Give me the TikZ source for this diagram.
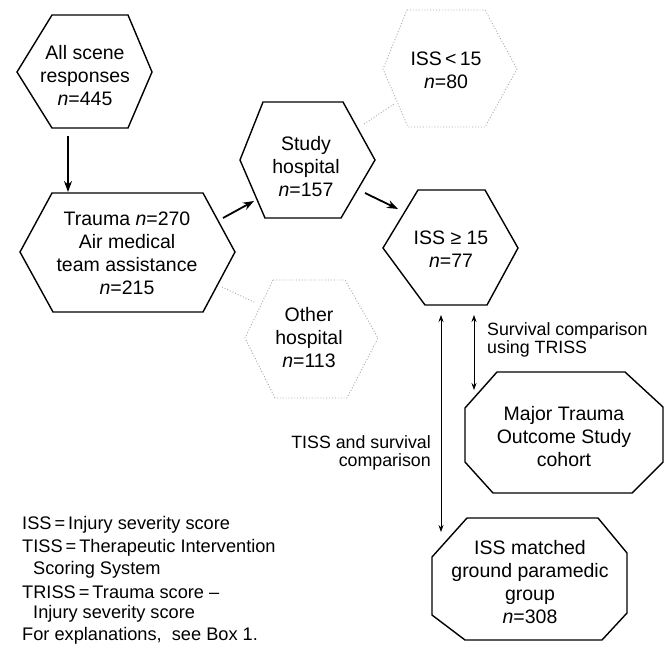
\documentclass[tikz,border=0pt]{standalone}
\usepackage{fontspec}
\setmainfont{Liberation Sans}
\usetikzlibrary{arrows.meta}
\begin{document}
\begin{tikzpicture}[x=1pt,y=-1pt,
  shapeline/.style={line width=1.4pt, line join=miter},
  faint/.style={gray!70, line width=0.9pt, dotted},
  hextext/.style={align=center, font=\fontsize{19.5}{23}\selectfont, inner sep=0pt},
  notetext/.style={font=\fontsize{17.8}{17.5}\selectfont, inner sep=0pt},
  legendline/.style={font=\fontsize{18.2}{21}\selectfont, inner sep=0pt, anchor=west},
  flow/.style={line width=1.8pt, -{Stealth[length=11pt,width=8pt]}},
  compare/.style={line width=0.8pt, {Stealth[length=7pt,width=5pt]}-{Stealth[length=7pt,width=5pt]}}
]
\useasboundingbox (0,0) rectangle (667,645);
\fill[white] (0,0) rectangle (667,645);

% shapes
\draw[shapeline] (52,15) -- (128,15) -- (152,72) -- (128,128) -- (52,128) -- (17,72) -- cycle;
\draw[shapeline] (52,193) -- (203,193) -- (235,252) -- (203,312) -- (53,312) -- (20,252) -- cycle;
\draw[shapeline] (263,102) -- (343,102) -- (375,160) -- (341,218) -- (265,218) -- (240,160) -- cycle;
\draw[faint] (407,10) -- (485,10) -- (517,69) -- (485,127) -- (408,127) -- (383,69) -- cycle;
\draw[shapeline] (418,190) -- (485,190) -- (518,248) -- (487,305) -- (425,305) -- (383,248) -- cycle;
\draw[faint] (273,280) -- (345,280) -- (378,338) -- (347,398) -- (275,398) -- (245,338) -- cycle;
\draw[shapeline] (497,372) -- (625,372) -- (663,407) -- (663,462) -- (632,493) -- (493,493) -- (465,462) -- (465,408) -- cycle;
\draw[shapeline] (467,518) -- (598,518) -- (627,553) -- (627,613) -- (602,640) -- (465,640) -- (432,615) -- (432,557) -- cycle;

% texts
\node[hextext] (all) at (85,76) {All scene\\responses\\\textit{n}=445};
\node[hextext] (trauma) at (127,253) {Trauma \textit{n}=270\\Air medical\\team assistance\\\textit{n}=215};
\node[hextext] (study) at (306,167) {Study\\hospital\\\textit{n}=157};
\node[hextext] (low) at (446,70) {ISS\,<\,15\\\textit{n}=80};
\node[hextext] (high) at (451,249) {ISS ≥ 15\\\textit{n}=77};
\node[hextext] (other) at (309,338) {Other\\hospital\\\textit{n}=113};
\node[hextext] (mtos) at (564,437) {Major Trauma\\Outcome Study\\cohort};
\node[hextext] (ground) at (530,582) {ISS matched\\ground paramedic\\group\\\textit{n}=308};

\node[notetext, anchor=west, align=left] (survlabel) at (487,340) {Survival comparison\\using TRISS};
\node[notetext, anchor=east, align=right] (tisslabel) at (431,453) {TISS and survival\\comparison};

\node[legendline] (leg1) at (22,525) {ISS\,=\,Injury severity score};
\node[legendline] (leg2) at (22,548) {TISS\,=\,Therapeutic Intervention};
\node[legendline] (leg3) at (33,570) {Scoring System};
\node[legendline] (leg4) at (22,592) {TRISS\,=\,Trauma score –};
\node[legendline] (leg5) at (33,614) {Injury severity score};
\node[legendline] (leg6) at (22,636) {For explanations,\ \ see Box 1.};

% connector end points
\coordinate (a1) at (68,136);
\coordinate (a2) at (68,192);
\coordinate (b1) at (223,218);
\coordinate (b2) at (254,201);
\coordinate (c1) at (365,193);
\coordinate (c2) at (398,209);
\coordinate (d1) at (364,124);
\coordinate (d2) at (394,104);
\coordinate (e1) at (222,287);
\coordinate (e2) at (256,303);
\coordinate (f1) at (441,315);
\coordinate (f2) at (441,532);
\coordinate (g1) at (474,315);
\coordinate (g2) at (474,390);

\draw[flow] (a1) -- (a2);
\draw[flow] (b1) -- (b2);
\draw[flow] (c1) -- (c2);
\draw[faint] (d1) -- (d2);
\draw[faint] (e1) -- (e2);
\draw[compare] (f1) -- (f2);
\draw[compare] (g1) -- (g2);
\end{tikzpicture}
\end{document}
